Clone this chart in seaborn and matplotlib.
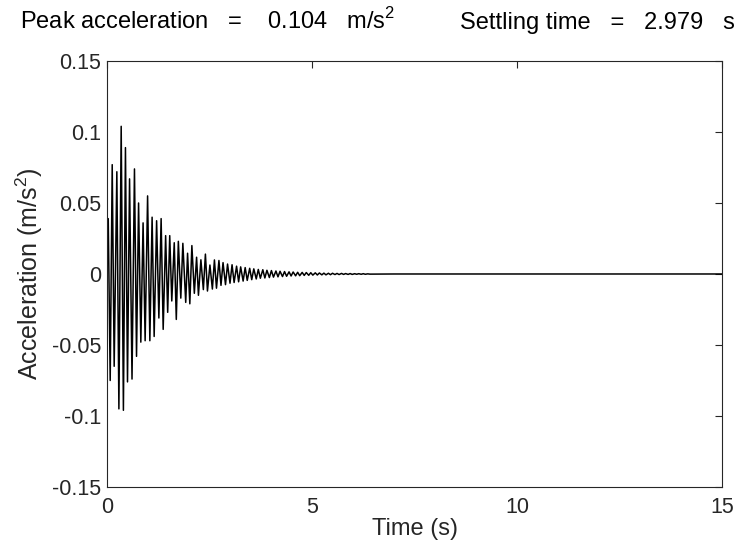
import numpy as np
import pandas as pd
import seaborn as sns
import matplotlib.pyplot as plt

# extrema of the response (time in s, accel in m/s^2)
t_early = [0.00, 0.03, 0.078, 0.127, 0.175, 0.24, 0.29, 0.346, 0.40, 0.45,
           0.50, 0.55, 0.61, 0.67, 0.72, 0.77, 0.825, 0.88, 0.93, 0.99,
           1.045, 1.10, 1.15, 1.21, 1.265, 1.32, 1.37, 1.43, 1.48, 1.53,
           1.58, 1.64, 1.69, 1.74, 1.80, 1.85, 1.92, 1.965, 2.02, 2.07,
           2.13, 2.185, 2.23, 2.29, 2.35, 2.40, 2.45, 2.51, 2.57]
a_early = [0.0, 0.039, -0.075, 0.077, -0.065, 0.072, -0.095, 0.104, -0.096, 0.089,
           -0.076, 0.067, -0.074, 0.074, -0.058, 0.050, -0.048, 0.036, -0.047, 0.055,
           -0.047, 0.040, -0.044, 0.0375, -0.031, 0.039, -0.039, 0.027, -0.027, 0.027,
           -0.019, 0.022, -0.032, 0.023, -0.017, 0.0216, -0.020, 0.0146, -0.021, 0.020,
           -0.0136, 0.0118, -0.015, 0.010, -0.011, 0.014, -0.012, 0.0063, -0.0106]

t_tail = [2.62, 2.67, 2.73, 2.78, 2.83, 2.89, 2.94, 3.00, 3.05, 3.10,
          3.16, 3.21, 3.26, 3.32, 3.37, 3.42, 3.48, 3.53, 3.58, 3.64,
          3.69, 3.74, 3.80, 3.85, 3.90, 3.96, 4.01, 4.06, 4.12, 4.17,
          4.22, 4.28, 4.33, 4.38, 4.44, 4.49, 4.54, 4.60, 4.65, 4.70,
          4.76, 4.81, 4.86, 4.92, 4.97, 5.02, 5.08, 5.13, 5.18, 5.24,
          5.29, 5.34, 5.40, 5.45, 5.50, 5.56, 5.61, 5.66, 5.72, 5.77,
          5.82, 5.88, 5.93, 5.98, 6.04, 6.09, 6.14, 6.20, 6.25, 6.30,
          6.36, 6.41, 7.0, 15.0]
a_tail = [0.0099, -0.010, 0.0095, -0.008, 0.008, -0.0075, 0.007, -0.0065, 0.0065, -0.006,
          0.0055, -0.0055, 0.005, -0.005, 0.0045, -0.0045, 0.004, -0.004, 0.0036, -0.0035,
          0.0032, -0.003, 0.003, -0.0028, 0.0026, -0.0025, 0.0024, -0.0022, 0.0021, -0.002,
          0.0019, -0.0018, 0.0017, -0.0016, 0.0015, -0.0014, 0.0014, -0.0013, 0.0012, -0.0012,
          0.0011, -0.001, 0.001, -0.0009, 0.0009, -0.0008, 0.0008, -0.0007, 0.0007, -0.0006,
          0.0006, -0.0006, 0.0005, -0.0005, 0.0005, -0.0004, 0.0004, -0.0004, 0.0004, -0.0003,
          0.0003, -0.0003, 0.0003, -0.0003, 0.0002, -0.0002, 0.0002, -0.0002, 0.0002, -0.0002,
          0.0001, -0.0001, 0.0, 0.0]

x_ticks = [0, 5, 10, 15]
y_ticks = [-0.15, -0.1, -0.05, 0, 0.05, 0.1, 0.15]
y_ticklabels = ["-0.15", "-0.1", "-0.05", "0", "0.05", "0.1", "0.15"]

peak_text = "Peak acceleration   =    0.104   m/s$^2$"
settle_text = "Settling time   =   2.979   s"

df = pd.DataFrame({"time": t_early + t_tail, "accel": a_early + a_tail})

sns.set_theme(style="white")
plt.rcParams['font.family'] = ['Liberation Sans', 'DejaVu Sans']
plt.rcParams['mathtext.fontset'] = 'custom'
plt.rcParams['mathtext.rm'] = 'Liberation Sans'
grey = "#262626"

fig = plt.figure(figsize=(7.41, 5.52), dpi=100)
ax = fig.add_axes([0.1444, 0.1178, 0.83, 0.7717])

sns.lineplot(data=df, x="time", y="accel", color="black", linewidth=1.1,
             sort=False, estimator=None, ax=ax)

ax.set_xlim(0, 15)
ax.set_ylim(-0.15, 0.15)
ax.set_xticks(x_ticks)
ax.set_xticklabels([str(v) for v in x_ticks])
ax.set_yticks(y_ticks)
ax.set_yticklabels(y_ticklabels)
ax.tick_params(direction="in", top=True, right=True, length=5, width=0.8,
               labelsize=15.5, colors=grey, pad=4)
ax.tick_params(axis="x", pad=7)
for s in ax.spines.values():
    s.set_color(grey)
    s.set_linewidth(0.8)

ax.set_xlabel("Time (s)", fontsize=17, color=grey, labelpad=0)
ax.set_ylabel("Acceleration (m/s$^2$)", fontsize=18, color=grey, labelpad=5)

fig.text(20 / 741, 1 - 29 / 552, peak_text, fontsize=17, color="black",
         ha="left", va="baseline")
fig.text(735 / 741, 1 - 29 / 552, settle_text, fontsize=17, color="black",
         ha="right", va="baseline")

fig.savefig("out.png", dpi=100)
